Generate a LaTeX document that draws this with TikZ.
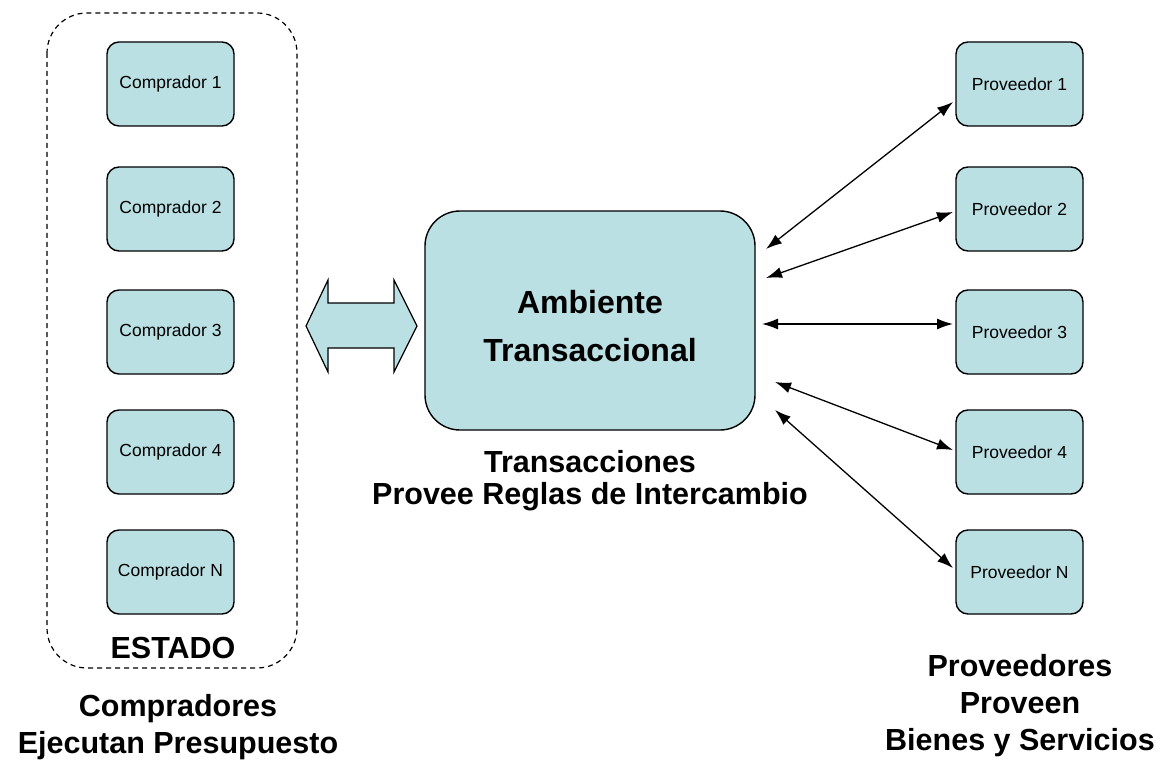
\documentclass[tikz,border=0pt]{standalone}
\usepackage{fontspec}
\setmainfont{Liberation Sans}
\usetikzlibrary{arrows.meta}
\definecolor{boxfill}{RGB}{187,224,227}
\tikzset{
  smallbox/.style={draw=black, line width=1.4pt, fill=boxfill, rounded corners=12pt,
    minimum width=127pt, minimum height=84pt, inner sep=0pt,
    font=\fontsize{17.5}{21}\selectfont},
  bigbox/.style={draw=black, line width=1.4pt, fill=boxfill, rounded corners=35pt,
    minimum width=330pt, minimum height=219pt, inner sep=0pt},
  biglabel/.style={align=center, font=\bfseries\fontsize{30.5}{37}\selectfont, inner sep=0pt},
  conn/.style={line width=1.3pt, {Latex[length=16pt,width=11pt]}-{Latex[length=16pt,width=11pt]}},
}
\begin{document}
\begin{tikzpicture}[x=1pt,y=-1pt]
\useasboundingbox (0,0) rectangle (1170,762);
% dashed group
\draw[line width=1.2pt, dash pattern=on 5pt off 4pt, rounded corners=40pt] (47,13) rectangle (297,668);
% compradores
\node[smallbox] (c1) at (170.5,84) {Comprador 1};
\node[smallbox] (c2) at (170.5,209) {Comprador 2};
\node[smallbox] (c3) at (170.5,332) {Comprador 3};
\node[smallbox] (c4) at (170.5,452) {Comprador 4};
\node[smallbox] (cN) at (170.5,572) {Comprador N};
\node[biglabel] (estado) at (173,648) {ESTADO};
\node[biglabel] (lcomp) at (178,727) {Compradores\\Ejecutan Presupuesto};
% proveedores
\node[smallbox] (p1) at (1019.5,84) {Proveedor 1};
\node[smallbox] (p2) at (1019.5,209) {Proveedor 2};
\node[smallbox] (p3) at (1019.5,332) {Proveedor 3};
\node[smallbox] (p4) at (1019.5,452) {Proveedor 4};
\node[smallbox] (pN) at (1019.5,572) {Proveedor N};
\node[biglabel] (lprov) at (1020,706) {Proveedores\\Proveen\\Bienes y Servicios};
% central
\node[bigbox] (amb) at (590,320.5) {};
\node[align=center, font=\bfseries\fontsize{32}{48}\selectfont, inner sep=0pt] (ambt) at (590,326) {Ambiente\\Transaccional};
\node[align=center, font=\bfseries\fontsize{30.5}{32}\selectfont, inner sep=0pt] (ltrans) at (590,481) {Transacciones\\Provee Reglas de Intercambio};
% fat double arrow
\draw[line width=1.2pt, fill=boxfill, line join=miter]
  (306,326) -- (328,280) -- (328,303) -- (394,303) -- (394,280) -- (417,326)
  -- (394,372) -- (394,348) -- (328,348) -- (328,372) -- cycle;
% connector ends
\coordinate (s1) at (766,249);
\coordinate (s2) at (766,278);
\coordinate (s3) at (762,324);
\coordinate (s4) at (775,382);
\coordinate (s5) at (775,410);
\coordinate (e1) at (953,102);
\coordinate (e2) at (953,212);
\coordinate (e3) at (953,324);
\coordinate (e4) at (953,450);
\coordinate (e5) at (953,568);
\draw[conn] (s1) -- (e1);
\draw[conn] (s2) -- (e2);
\draw[conn] (s3) -- (e3);
\draw[conn] (s4) -- (e4);
\draw[conn] (s5) -- (e5);
\end{tikzpicture}
\end{document}
